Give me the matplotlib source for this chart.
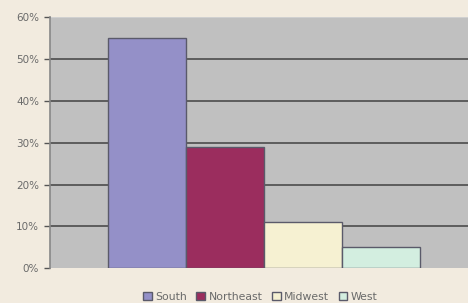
import matplotlib.pyplot as plt
from matplotlib.ticker import PercentFormatter

# Data
regions = ["South", "Northeast", "Midwest", "West"]
shares = [55, 29, 11, 5]
colors = ["#9490c8", "#9b2d5e", "#f6f1d2", "#d3eee0"]
yticks = [0, 10, 20, 30, 40, 50, 60]

fig = plt.figure(figsize=(4.68, 3.03), dpi=100)
fig.patch.set_facecolor("#f2ebdf")
ax = fig.add_axes([0.107, 0.115, 0.893, 0.828])
ax.set_facecolor("#c0c0c0")

bars = []
for i, (name, val, col) in enumerate(zip(regions, shares, colors)):
    b = ax.bar(i, val, width=1.0, color=col, edgecolor="#5a5a6a",
               linewidth=1.0, label=name, zorder=3)
    bars.append(b)

ax.set_xlim(-1.244, 4.115)
ax.set_ylim(0, 60)
ax.set_yticks(yticks)
ax.yaxis.set_major_formatter(PercentFormatter(decimals=0))
ax.set_xticks([])

# gridlines behind the bars, none on the 0% and 60% edges
for y in yticks[1:-1]:
    ax.axhline(y, color="#555555", linewidth=1.3, zorder=1)
ax.axhline(60, color="#d0d0d0", linewidth=1.5, zorder=1)

for s in ["top", "right", "bottom"]:
    ax.spines[s].set_visible(False)
ax.spines["left"].set_color("#888888")
ax.spines["left"].set_linewidth(1.2)

ax.tick_params(axis="y", length=4, width=1, color="#555555",
               labelsize=7.5, labelcolor="#6a6a6a", pad=4)

fig.legend(handles=bars, labels=regions, loc="lower center",
           bbox_to_anchor=(0.556, -0.028), ncol=4, frameon=False,
           fontsize=7.8, labelcolor="#6a6a6a", handlelength=0.8,
           handleheight=0.8, handletextpad=0.3, columnspacing=0.9)

plt.savefig("out.png", dpi=100, facecolor=fig.get_facecolor())
